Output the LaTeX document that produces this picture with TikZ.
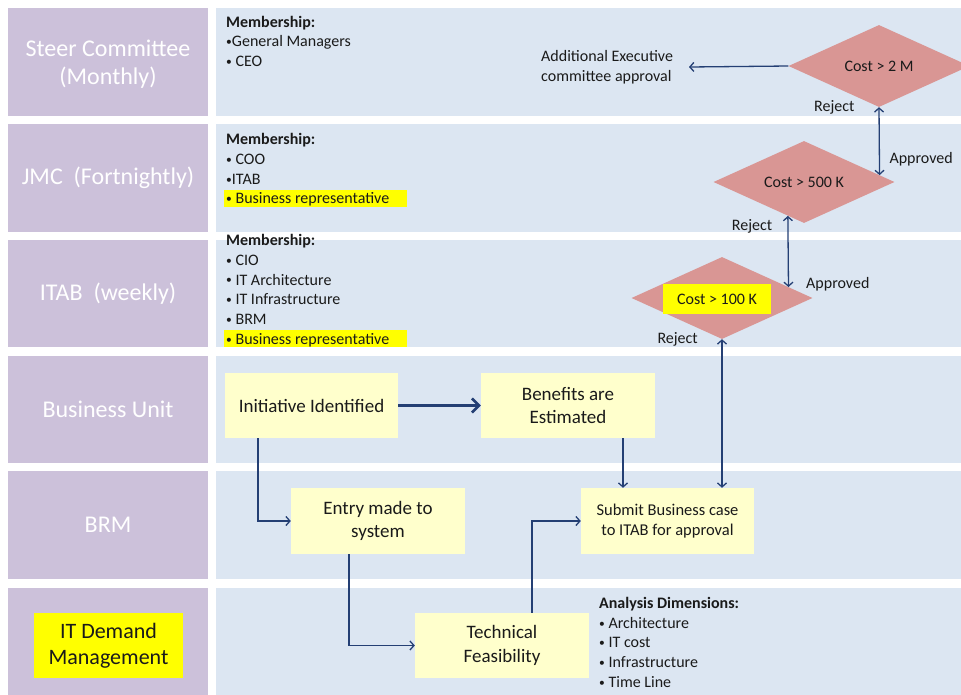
\documentclass[tikz,border=0pt]{standalone}
\usepackage{fontspec}
\usepackage{graphicx}
\setmainfont{Carlito}
\usetikzlibrary{shapes.geometric,arrows.meta,calc}

\definecolor{lanehead}{HTML}{CCC1DA}
\definecolor{lanebody}{HTML}{DCE6F2}
\definecolor{stepfill}{HTML}{FFFFCC}
\definecolor{gatefill}{HTML}{D99694}
\definecolor{flowline}{HTML}{243F74}
\definecolor{ink}{HTML}{1A1A1A}
\definecolor{marker}{HTML}{FFFF00}

\newcommand{\fsz}[2]{\fontsize{#1}{#2}\selectfont}
% small list bullet
\newcommand{\bul}{\raisebox{0.08em}{\scalebox{0.72}{•}}}

\begin{document}
\begin{tikzpicture}[x=1pt,y=-1pt,
  headtext/.style={text=white, inner sep=0pt, align=center, font=\fsz{24}{28}},
  stepbox/.style={fill=stepfill, text=ink, minimum width=174pt, minimum height=65pt,
    inner sep=0pt, align=center, font=\fsz{19}{23.3}},
  gate/.style={diamond, aspect=2.2, fill=gatefill, text=ink, minimum width=181pt,
    minimum height=82pt, inner sep=0pt, font=\fsz{16}{19.7}},
  note/.style={text=ink, inner sep=0pt, font=\fsz{16}{19.7}, anchor=base west},
  barb/.tip={Straight Barb[length=4pt,width=9pt]},
  flow/.style={draw=flowline, line width=1.3pt, -barb},
  both/.style={draw=flowline, line width=1.3pt, barb-barb},
  heavy/.style={draw=flowline, line width=2.6pt, -{Straight Barb[length=7pt,width=14pt]}},
]
\useasboundingbox (0,0) rectangle (961,694);

% swim lanes: header column and body
\foreach \ytop/\ybot in {8/115.5, 124/231.5, 240/347, 355.5/463, 471/579, 587.5/700} {
  \fill[lanehead] (8,\ytop) rectangle (208,\ybot);
  \fill[lanebody] (216,\ytop) rectangle (965,\ybot);
}

% lane titles
\node[headtext] (steer) at (108,64) {Steer Committee\\(Monthly)};
\node[headtext] (jmc)   at (108,177.8) {JMC~~(Fortnightly)};
\node[headtext] (itab)  at (108,293.5) {ITAB~~(weekly)};
\node[headtext] (bunit) at (108,409.3) {Business Unit};
\node[headtext] (brm)   at (108,525) {BRM};
\node[fill=marker, text=ink, minimum width=149pt, minimum height=65pt, inner sep=0pt,
  align=center, font=\fsz{22}{25.5}] (itdm) at (108.5,645.5) {IT Demand\\Management};

% membership lists
\node[note] (m1h) at (226,27.3) {\textbf{Membership:}};
\node[note] (m1a) at (226,46.7) {\bul General Managers};
\node[note] (m1b) at (226,66.3) {\bul\ CEO};

\fill[marker] (224.3,190) rectangle (406.7,206.7);
\node[note] (m2h) at (226,144) {\textbf{Membership:}};
\node[note] (m2a) at (226,164.7) {\bul\ COO};
\node[note] (m2b) at (226,184.3) {\bul ITAB};
\node[note] (m2c) at (226,203.3) {\bul\ Business representative};

\fill[marker] (224.3,330) rectangle (406.7,346.7);
\node[note] (m3h) at (226,245) {\textbf{Membership:}};
\node[note] (m3a) at (226,265.3) {\bul\ CIO};
\node[note] (m3b) at (226,285) {\bul\ IT Architecture};
\node[note] (m3c) at (226,304.7) {\bul\ IT Infrastructure};
\node[note] (m3d) at (226,324.7) {\bul\ BRM};
\node[note] (m3e) at (226,344.3) {\bul\ Business representative};

% analysis dimensions
\node[note] (adh) at (599,608.3) {\textbf{Analysis Dimensions:}};
\node[note] (ada) at (599,628.3) {\bul\ Architecture};
\node[note] (adb) at (599,647.7) {\bul\ IT cost};
\node[note] (adc) at (599,667.3) {\bul\ Infrastructure};
\node[note] (add) at (599,687.7) {\bul\ Time Line};

% process steps
\node[stepbox, minimum width=173pt] (init) at (311.5,405.5) {Initiative Identified};
\node[stepbox] (ben)   at (568,405.5) {Benefits are\\Estimated};
\node[stepbox, minimum height=66pt] (entry) at (378,521) {Entry made to\\system};
\node[stepbox, minimum width=173pt, minimum height=66pt, font=\fsz{16.5}{20}] (submit)
  at (667.5,521) {Submit Business case\\to ITAB for approval};
\node[stepbox] (tech)  at (502,645.5) {Technical\\Feasibility};

% cost gates
\node[gate] (g2m)  at (879,66)  {Cost > 2 M};
\node[gate] (g500) at (804,182) {Cost > 500 K};
\node[gate] (g100) at (722,298) {};
\node[fill=marker, text=ink, minimum width=108pt, minimum height=30pt, inner sep=0pt,
  font=\fsz{16}{19.7}] (g100t) at (717,299) {Cost > 100 K};

% executive approval
\node[note] (exec1) at (541,61.7) {Additional Executive};
\node[note] (exec2) at (541,81.7) {committee approval};
\coordinate (execTip) at (689,67);

% gate outcome labels
\node[note] (rej1) at (814,111.7) {Reject};
\node[note] (app1) at (889.3,163.3) {Approved};
\node[note] (rej2) at (731.7,230) {Reject};
\node[note] (app2) at (806,288.3) {Approved};
\node[note] (rej3) at (657.3,343.3) {Reject};

% connectors
\draw[heavy] (init) -- (ben);
\draw[flow] ([xshift=-53.5pt]init.south) |- (entry.west);
\draw[flow] ([xshift=-29pt]entry.south) |- (tech.west);
\draw[flow] ([xshift=30pt]tech.north) |- (submit.west);
\draw[flow] ([xshift=55pt]ben.south) -- ([xshift=55pt]ben.south |- submit.north);
\draw[both] (g100.south) -- (g100.south |- submit.north);
\draw[both] ($(g100.east)!0.267!(g100.north)$) -- ($(g500.south)!0.178!(g500.west)$);
\draw[both] ($(g500.east)!0.167!(g500.north)$) -- (g2m.south);
\draw[flow] (g2m.west) -- (execTip);
\end{tikzpicture}
\end{document}
